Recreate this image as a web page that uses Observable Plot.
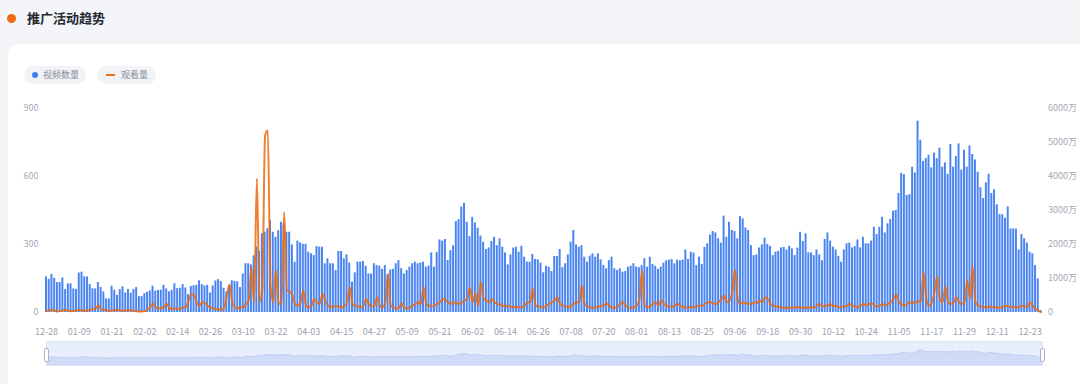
<!DOCTYPE html>
<html><head><meta charset="utf-8">
<script src="https://cdn.jsdelivr.net/npm/d3@7"></script>
<script src="https://cdn.jsdelivr.net/npm/@observablehq/plot@0.6"></script>
<style>
body{margin:0;background:#f3f5f8;font-family:"Noto Sans CJK SC","Noto Sans",sans-serif;}
#root{position:relative;width:1080px;height:384px;overflow:hidden;background:#f3f5f8;}
.dot{position:absolute;left:6.5px;top:13.5px;width:9px;height:9px;border-radius:50%;background:#ef6a12;}
.title{position:absolute;left:27px;top:8px;font-size:13px;font-weight:700;color:#262a33;line-height:20px;}
.card{position:absolute;left:8px;top:44px;width:1100px;height:360px;background:#fff;border-radius:10px;}
.pill{position:absolute;top:66px;height:18px;border-radius:9px;background:#f2f3f6;font-size:9px;color:#8a8f99;line-height:18px;}
.pill .sw{position:absolute;}
.pill span{position:absolute;white-space:nowrap;}
#chart{position:absolute;left:0;top:90px;}
#zoomwrap{position:absolute;left:46px;top:341px;width:997px;height:25px;background:#e8eefc;border:1px solid #dbe3f5;box-sizing:border-box;}
#zoomplot{position:absolute;left:0;top:0;}
.handle{position:absolute;top:6px;width:5px;height:14px;background:#fff;border:1px solid #a9b3c8;border-radius:2px;box-sizing:border-box;}
</style></head><body>
<div id="root">
  <div class="dot"></div><div class="title">推广活动趋势</div>
  <div class="card"></div>
  <div class="pill" style="left:24px;width:62px;"><div class="sw" style="left:8px;top:6px;width:6px;height:6px;border-radius:50%;background:#3f7cf0;"></div><span style="left:19px;">视频数量</span></div>
  <div class="pill" style="left:97px;width:59px;"><div class="sw" style="left:9px;top:8px;width:9px;height:2px;background:#e8711c;"></div><span style="left:24px;">观看量</span></div>
  <div id="chart"></div>
  <div id="zoomwrap"><div id="zoomplot"></div>
    <div class="handle" style="left:-3px;"></div><div class="handle" style="right:-3px;"></div>
  </div>
</div>
<script>
// Daily video counts (left axis)
const videoCounts = [
157,146,168,151,132,132,152,101,126,126,104,102,
174,178,157,157,123,105,104,132,111,91,60,60,
116,98,76,101,113,86,102,85,101,110,70,70,
83,89,95,116,94,97,99,120,104,91,98,127,
105,107,123,108,79,115,118,120,140,123,117,120,
86,117,139,145,136,107,91,117,140,137,135,110,
170,215,215,210,250,288,270,347,354,369,405,354,
332,361,398,391,354,354,298,222,315,307,301,301,
266,259,251,291,288,288,215,237,215,215,185,269,
269,237,254,218,134,175,222,222,225,204,170,170,
215,207,204,190,207,166,188,190,215,229,193,170,
185,200,215,222,215,218,222,200,205,263,200,265,
320,315,322,229,273,294,401,409,465,482,398,335,
420,395,372,337,310,278,285,313,332,295,325,288,
263,210,254,284,288,266,292,244,222,222,256,234,
232,218,175,204,200,181,247,247,278,198,215,254,
310,362,298,288,295,244,222,249,259,244,259,232,
207,193,229,244,193,185,193,178,181,200,204,215,
200,
198,207,237,200,244,212,204,190,200,218,228,231,234,215,231,228,231,276,234,266,
262,207,244,212,287,303,342,357,351,325,306,425,332,398,362,357,325,423,413,373,
362,295,251,254,285,298,328,300,292,251,266,270,285,287,276,292,281,251,284,354,
313,347,263,263,251,276,254,228,322,351,315,
288,276,248,222,276,303,306,285,291,320,285,332,303,303,
315,376,344,376,420,351,391,410,447,450,525,614,608,516,520,641,616,844,760,666,679,694,638,703,679,725,641,660,610,
741,641,688,744,628,716,641,735,697,673,619,550,503,572,610,525,541,
475,432,431,416,466,369,369,368,276,344,325,306,266,259,207,148,9
];
// Daily views in 万 (right axis)
const viewCounts = [
40,60,80,50,30,40,60,70,50,40,50,60,
70,60,50,60,80,100,120,210,100,80,60,50,
60,70,80,60,50,60,70,60,50,40,30,30,
40,80,160,270,150,120,130,150,255,130,100,120,
110,120,140,157,350,530,520,300,200,304,280,200,
150,120,100,90,80,130,500,820,300,150,120,160,
150,250,350,1330,300,3940,300,700,5200,5350,800,300,
1235,250,300,2950,650,620,500,250,200,300,650,200,
150,200,400,300,250,550,350,200,150,180,200,170,
150,180,300,745,250,200,180,150,200,400,250,180,
200,450,200,150,300,1140,200,150,120,130,275,130,
120,150,200,250,300,250,745,250,200,180,200,250,
300,400,380,300,250,300,280,250,300,350,400,725,
300,568,200,882,400,350,300,400,300,250,235,200,
180,200,160,150,170,157,157,200,300,300,696,200,
180,160,150,200,250,300,350,450,250,200,180,150,
200,250,300,300,794,250,180,150,140,150,160,200,
200,275,200,150,140,160,250,304,200,150,140,150,
200,353,1235,200,150,180,250,300,200,372,250,200,
180,160,200,255,200,160,150,157,150,160,180,200,
200,250,300,300,274,250,300,400,500,300,350,600,
1254,400,250,300,280,260,250,300,280,350,300,450,
400,250,200,180,160,150,140,130,150,140,150,160,
150,140,130,150,160,140,200,250,180,200,206,250,
180,200,150,160,180,200,250,200,180,150,200,255,
200,250,275,200,180,200,250,200,250,300,400,529,
300,250,200,250,300,280,300,333,300,1186,400,200,
300,600,1068,400,300,764,300,250,300,451,300,250,
300,940,400,1362,300,200,180,160,150,180,160,157,
150,140,160,200,180,160,170,150,160,200,180,160,
304,200,100,50,10
];
const tickLabels = ["12-28","01-09","01-21","02-02","02-14","02-26","03-10","03-22","04-03","04-15","04-27","05-09","05-21","06-02","06-14","06-26","07-08","07-20","08-01","08-13","08-25","09-06","09-18","09-30","10-12","10-24","11-05","11-17","11-29","12-11","12-23"];
const leftTicks = [0,300,600,900];
const rightTicks = [0,1000,2000,3000,4000,5000,6000];

const start = new Date(2022, 11, 28);
const fmt = d3.timeFormat("%m-%d");
const dateLabels = d3.timeDay.range(start, d3.timeDay.offset(start, videoCounts.length)).map(fmt);
const rows = dateLabels.map((date, i) => ({date, i, videos: videoCounts[i], views: viewCounts[i]}));
const k = 900 / 6000;

const chart = Plot.plot({
  width: 1080, height: 250,
  marginTop: 18, marginBottom: 28, marginLeft: 45, marginRight: 38.5,
  style: {background: "transparent", fontFamily: "'Noto Sans CJK SC','Noto Sans',sans-serif", fontSize: "9px", color: "#a5aab4", overflow: "visible"},
  x: {type: "band", domain: dateLabels, paddingInner: 0.28, paddingOuter: 0},
  y: {domain: [0, 900]},
  marks: [
    Plot.barY(rows, {x: "date", y: "videos", fill: "#4a84f1"}),
    Plot.lineY(rows, {x: "date", y: d => d.views * k, stroke: "#ec6a0e", strokeWidth: 2, strokeOpacity: 0.85, curve: "monotone-x"}),
    Plot.axisY({ticks: leftTicks, tickSize: 0, tickPadding: 7, label: null}),
    Plot.axisY({anchor: "right", ticks: rightTicks.map(v => v * k), tickFormat: v => { const r = Math.round(v / k); return r === 0 ? "0" : r + "万"; }, tickSize: 0, tickPadding: 6, label: null}),
    Plot.axisX({ticks: tickLabels, tickSize: 0, tickPadding: 16, label: null, fill: "#9da2ad"})
  ]
});
document.getElementById("chart").appendChild(chart);

const zoom = Plot.plot({
  width: 995, height: 23, margin: 0,
  style: {background: "transparent"},
  x: {domain: [0, videoCounts.length - 1], axis: null},
  y: {domain: [-634, 1538], axis: null},
  marks: [
    Plot.areaY(rows, {x: "i", y1: -634, y2: "videos", fill: "#cfdbf7", curve: "monotone-x"}),
    Plot.lineY(rows, {x: "i", y: "videos", stroke: "#bccbef", strokeWidth: 0.8, curve: "monotone-x"})
  ]
});
document.getElementById("zoomplot").appendChild(zoom);
</script>
</body></html>
